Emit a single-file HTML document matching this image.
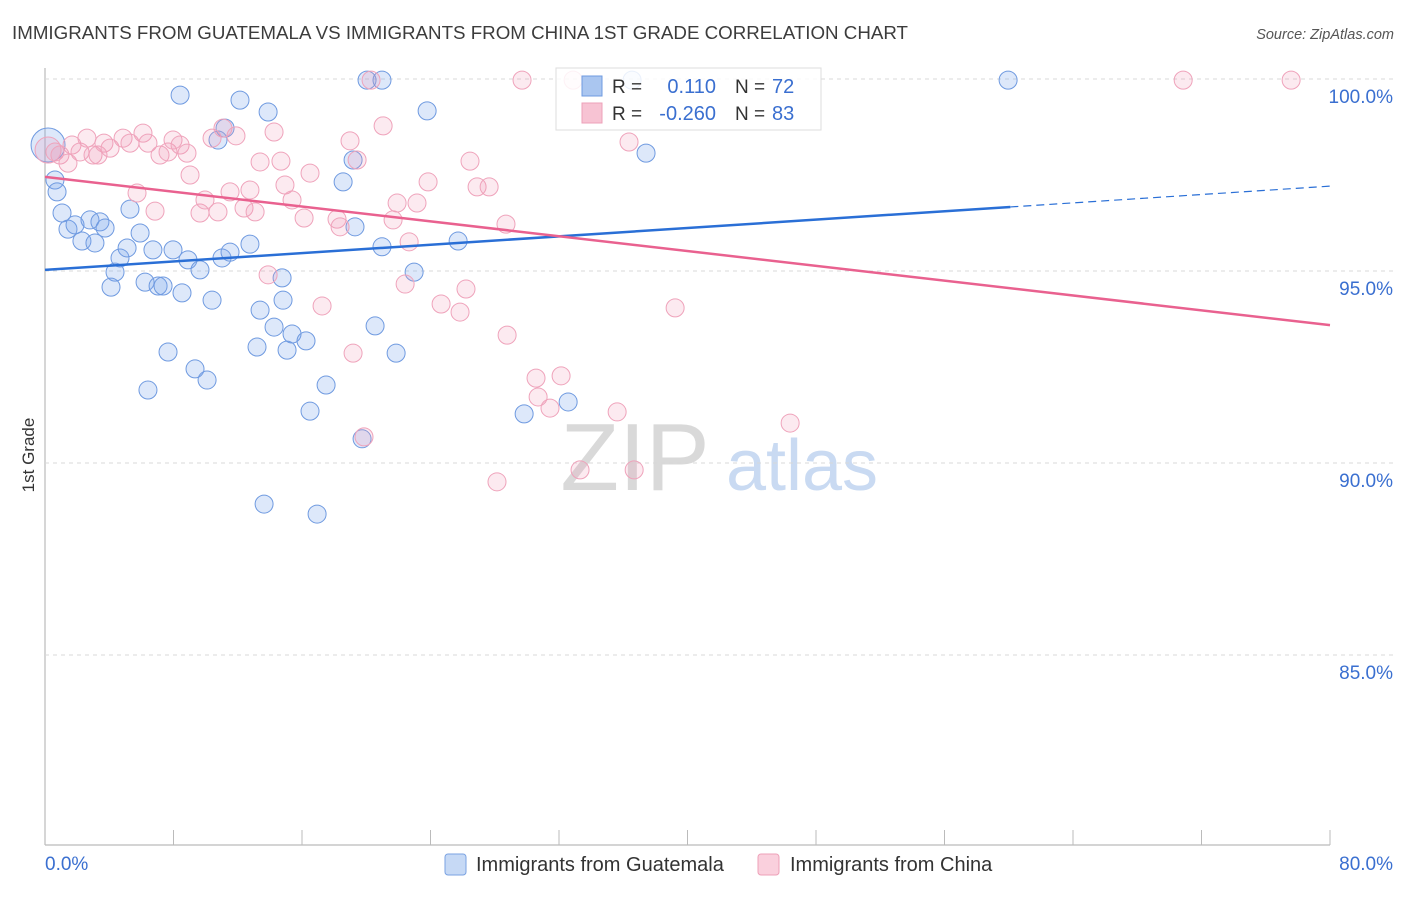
<!DOCTYPE html>
<html><head><meta charset="utf-8"><style>
body{margin:0;background:#fff;font-family:"Liberation Sans",sans-serif;}
svg text{font-family:"Liberation Sans",sans-serif;}
</style></head><body>
<svg id="c" width="1406" height="892" xmlns="http://www.w3.org/2000/svg">
<text x="12" y="39" font-size="18" fill="#3c3c3c" textLength="896" lengthAdjust="spacingAndGlyphs">IMMIGRANTS FROM GUATEMALA VS IMMIGRANTS FROM CHINA 1ST GRADE CORRELATION CHART</text>
<text x="1394" y="39" font-size="14.5" fill="#555" font-style="italic" text-anchor="end">Source: ZipAtlas.com</text>
<text x="34" y="455" font-size="17" fill="#333" transform="rotate(-90 34 455)" text-anchor="middle">1st Grade</text>
<g><text x="635" y="490" font-size="96" font-family="Liberation Serif" fill="#d9d9d9" text-anchor="middle">ZIP</text><text x="802" y="490" font-size="72" fill="#c9daf2" text-anchor="middle">atlas</text></g>
<g id="grid"></g><g id="marks"></g>
<g>
<rect x="556" y="68" width="265" height="62" fill="#fff" fill-opacity="0.85" stroke="#ddd"/>
<rect x="582" y="76" width="20" height="20" fill="#aac6f0" stroke="#6f9be0"/>
<rect x="582" y="103" width="20" height="20" fill="#f7c3d3" stroke="#eea0b8"/>
<text x="612" y="93" font-size="19" fill="#333">R =</text><text x="716" y="93" font-size="20" fill="#3a6fd0" text-anchor="end">0.110</text>
<text x="735" y="93" font-size="19" fill="#333">N =</text><text x="772" y="93" font-size="20" fill="#3a6fd0">72</text>
<text x="612" y="120" font-size="19" fill="#333">R =</text><text x="716" y="120" font-size="20" fill="#3a6fd0" text-anchor="end">-0.260</text>
<text x="735" y="120" font-size="19" fill="#333">N =</text><text x="772" y="120" font-size="20" fill="#3a6fd0">83</text>
</g>
<g>
<rect x="445" y="854" width="21" height="21" rx="3" fill="#c6d9f5" stroke="#7aa2e2"/>
<text x="476" y="871" font-size="20" fill="#333">Immigrants from Guatemala</text>
<rect x="758" y="854" width="21" height="21" rx="3" fill="#fad0dd" stroke="#eea0b8"/>
<text x="790" y="871" font-size="20" fill="#333">Immigrants from China</text>
</g>
<text x="45" y="870" font-size="19" fill="#3a6fd0">0.0%</text>
<text x="1393" y="870" font-size="19" fill="#3a6fd0" text-anchor="end">80.0%</text>
</svg>
<script>
const yTicks=[100,95,90,85];
const xTicks=[0,8,16,24,32,40,48,56,64,72,80];
const blueX=[0.19,0.62,0.75,1.06,1.43,1.87,2.30,2.80,3.11,3.42,3.74,4.36,4.11,4.67,5.11,5.29,5.92,6.23,6.41,6.72,7.04,7.35,7.66,7.97,8.41,8.53,8.90,9.34,9.65,10.09,10.40,10.77,11.02,11.21,11.52,12.14,12.76,13.20,13.39,13.64,13.89,14.26,14.76,14.82,15.07,15.38,16.25,16.50,16.94,17.50,18.56,19.18,19.30,19.74,20.05,20.55,20.98,20.98,21.86,22.98,23.79,25.72,29.83,32.57,36.55,37.42,59.96];
const blueY=[98.28,97.37,97.06,96.51,96.09,96.20,95.78,96.33,95.73,96.28,96.12,94.97,94.58,95.34,95.60,96.61,95.99,94.71,91.90,95.55,94.61,94.61,92.89,95.55,99.58,94.43,95.29,92.45,95.03,92.16,94.24,98.41,95.34,98.72,95.49,99.45,95.70,93.02,93.98,88.93,99.14,93.54,94.82,94.24,92.94,93.36,93.18,91.35,88.67,92.03,97.32,97.89,96.15,90.63,99.97,93.57,99.97,95.63,92.86,94.97,99.17,95.78,91.28,91.59,99.97,98.07,99.97];
const pinkX=[0.19,0.62,0.93,1.43,1.68,2.18,2.61,2.99,3.30,3.67,4.05,4.86,5.29,5.73,6.10,6.41,6.85,7.16,7.66,7.97,8.41,8.84,9.03,9.65,9.96,10.40,10.77,11.08,11.52,11.89,12.39,12.76,13.08,13.39,13.89,14.26,14.69,14.94,15.38,16.13,16.50,17.25,18.18,18.37,18.99,19.18,19.43,19.86,20.30,21.05,21.67,21.92,22.42,22.67,23.16,23.85,24.66,25.84,26.21,26.46,26.90,27.65,28.14,28.70,28.77,29.70,30.57,30.70,31.44,32.13,32.88,33.31,35.62,36.36,36.68,39.23,46.39,70.86,77.58];
const pinkY=[98.15,98.10,98.02,97.81,98.28,98.10,98.46,98.02,98.02,98.33,98.20,98.46,98.33,97.03,98.59,98.33,96.56,98.02,98.10,98.41,98.28,98.07,97.50,96.51,96.85,98.46,96.54,98.72,97.06,98.52,96.64,97.11,96.54,97.84,94.90,98.62,97.86,97.24,96.85,96.38,97.55,94.09,96.35,96.15,98.39,92.86,97.89,90.68,99.97,98.78,96.33,96.77,94.66,95.76,96.77,97.32,94.14,93.93,94.53,97.86,97.19,97.19,89.51,96.22,93.33,99.97,92.21,91.72,91.43,92.27,99.97,89.82,91.33,98.36,89.82,94.04,91.04,99.97,99.97];
const blueTrend=[95.03,97.21];
const pinkTrend=[97.45,93.59];
const NS='http://www.w3.org/2000/svg';
function xs(v){return 45+v/80*1285;}
function ys(v){return 79+(100-v)*38.4;}
function mk(t,a,p){const e=document.createElementNS(NS,t);for(const k in a)e.setAttribute(k,a[k]);p.appendChild(e);return e;}
const g=document.getElementById('grid'),m=document.getElementById('marks');
let ax=mk('line',{x1:45,y1:68,x2:45,y2:845,stroke:'#bbb','stroke-width':1.2},g);


let bx=mk('line',{x1:45,y1:845,x2:1330,y2:845,stroke:'#bbb','stroke-width':1.2},g);


yTicks.forEach(v=>{
 const l=mk('line',{x1:45,y1:ys(v),x2:1394,y2:ys(v),stroke:'#d8d8d8','stroke-dasharray':'4,4'},g);
 
 
 const t=mk('text',{x:1393,y:ys(v)+24,'font-size':19,fill:'#3a6fd0','text-anchor':'end'},g);
 t.textContent=v.toFixed(1)+'%';
 
 
});
xTicks.forEach(v=>{
 const l=mk('line',{x1:xs(v),y1:830,x2:xs(v),y2:845,stroke:'#bbb'},g);
 
 
});
blueX.forEach((x,i)=>{
 const c=mk('circle',{cx:xs(x),cy:ys(blueY[i]),r:i==0?17:9,fill:'rgba(120,165,235,0.25)',stroke:'#6f9ae0','stroke-width':1},m);
 
 
});
pinkX.forEach((x,i)=>{
 const c=mk('circle',{cx:xs(x),cy:ys(pinkY[i]),r:i==0?13:9,fill:'rgba(242,150,180,0.2)',stroke:'#efa3bb','stroke-width':1},m);
 
 
});
function at(tr,x){return tr[0]+(tr[1]-tr[0])*x/80;}
let b1=mk('line',{x1:xs(0),y1:ys(at(blueTrend,0)),x2:xs(60.1),y2:ys(at(blueTrend,60.1)),stroke:'#2a6fd6','stroke-width':2.5},m);


let b2=mk('line',{x1:xs(60.1),y1:ys(at(blueTrend,60.1)),x2:xs(80),y2:ys(at(blueTrend,80)),stroke:'#2a6fd6','stroke-width':1.2,'stroke-dasharray':'8,5'},m);


let p1=mk('line',{x1:xs(0),y1:ys(pinkTrend[0]),x2:xs(80),y2:ys(pinkTrend[1]),stroke:'#e9618f','stroke-width':2.5},m);


</script>
</body></html>
